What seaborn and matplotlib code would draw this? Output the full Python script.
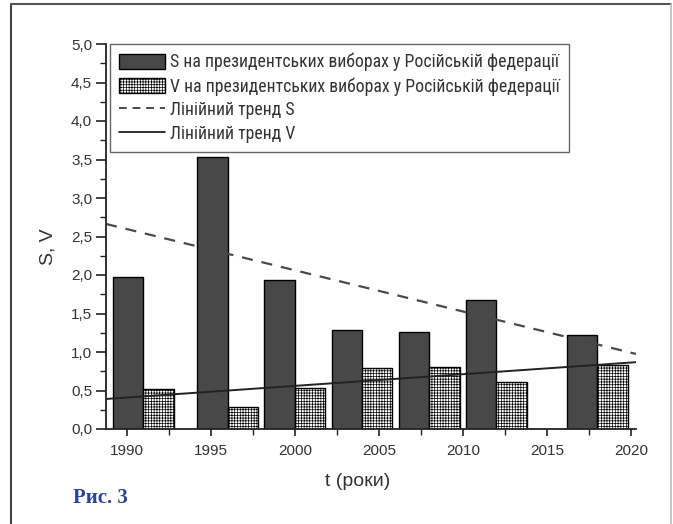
import numpy as np
import pandas as pd
import matplotlib
matplotlib.use("Agg")
import matplotlib.pyplot as plt
import seaborn as sns
from matplotlib import font_manager
from matplotlib.patches import Patch
from matplotlib.lines import Line2D
from matplotlib.ticker import MultipleLocator, FuncFormatter

# election years and the two indices
years = [1991, 1996, 2000, 2004, 2008, 2012, 2018]
s_vals = [1.98, 3.53, 1.94, 1.28, 1.26, 1.67, 1.22]
v_vals = [0.52, 0.28, 0.53, 0.79, 0.80, 0.61, 0.83]
x_ticks = [1990, 1995, 2000, 2005, 2010, 2015, 2020]
y_ticks = [0.0, 0.5, 1.0, 1.5, 2.0, 2.5, 3.0, 3.5, 4.0, 4.5, 5.0]

legend_labels = [
    "S на президентських виборах у Російській федерації",
    "V на президентських виборах у Російській федерації",
    "Лінійний тренд S",
    "Лінійний тренд V",
]

def pick_font(options):
    names = {f.name for f in font_manager.fontManager.ttflist}
    for o in options:
        if o in names:
            return o
    return "DejaVu Sans"

sns.set_style("ticks")
main_font = pick_font(["Liberation Sans", "Arial", "DejaVu Sans"])
narrow_font = pick_font(["Liberation Sans Narrow", "DejaVu Sans Condensed", "Roboto Condensed", "Liberation Sans"])
serif_font = pick_font(["Liberation Serif", "DejaVu Serif"])
plt.rcParams["font.family"] = [main_font, "DejaVu Sans"]
plt.rcParams["hatch.linewidth"] = 0.5
plt.rcParams["hatch.color"] = "#9a9a9a"

text_col = "#333333"
dark = "#484848"
hatch_col = "#9a9a9a"

df = pd.DataFrame({
    "year": years * 2,
    "value": s_vals + v_vals,
    "series": ["S"] * len(years) + ["V"] * len(years),
})

fig = plt.figure(figsize=(6.73, 5.24), dpi=100)
ax = fig.add_axes([106 / 673, 1 - 429 / 524, 530 / 673, 385 / 524])

sns.barplot(data=df, x="year", y="value", hue="series", native_scale=True,
            dodge=True, width=0.905, palette=[dark, "white"],
            edgecolor="black", linewidth=1.0, legend=False, ax=ax)

# hatched grid on V bars
for bar in ax.containers[1]:
    bar.set_hatch("++++++")
    if hasattr(bar, "set_hatchcolor"):
        bar.set_hatchcolor(hatch_col)

ax.set_xlim(1988.77, 2020.3)

# linear trends
sns.regplot(x=np.array(years), y=np.array(s_vals), scatter=False, ci=None,
            truncate=False, ax=ax,
            line_kws=dict(color="#4a4a4a", lw=1.6, ls=(0, (5, 4))))
sns.regplot(x=np.array(years), y=np.array(v_vals), scatter=False, ci=None,
            truncate=False, ax=ax,
            line_kws=dict(color="#222222", lw=1.4, ls="-"))

ax.set_xlim(1988.77, 2020.3)
ax.set_ylim(0, 5)
ax.set_xticks(x_ticks)
ax.set_yticks(y_ticks)
ax.xaxis.set_minor_locator(MultipleLocator(2.5))
ax.yaxis.set_minor_locator(MultipleLocator(0.25))
ax.yaxis.set_major_formatter(FuncFormatter(lambda v, p: f"{v:.1f}".replace(".", ",")))
ax.xaxis.set_major_formatter(FuncFormatter(lambda v, p: f"{int(round(v))}"))

for s in ["top", "right"]:
    ax.spines[s].set_visible(False)
for s in ["left", "bottom"]:
    ax.spines[s].set_color("#222222")
    ax.spines[s].set_linewidth(1.3)

ax.tick_params(axis="y", which="major", direction="out", length=7, width=1.2,
               color="#222222", labelsize=11, labelcolor=text_col, pad=3)
ax.tick_params(axis="y", which="minor", direction="out", length=4, width=1.0, color="#222222")
ax.tick_params(axis="x", which="major", direction="out", length=5, width=1.2,
               color="#222222", labelsize=11, labelcolor=text_col, pad=6)
ax.tick_params(axis="x", which="minor", direction="out", length=4, width=1.0, color="#222222")

ax.set_xlabel("t (роки)", fontsize=14, color=text_col)
ax.set_ylabel("S, V", fontsize=14, color=text_col)
ax.xaxis.set_label_coords(0.474, -0.115)
ax.yaxis.set_label_coords(-0.094, 0.473)

handles = [
    Patch(facecolor=dark, edgecolor="black", linewidth=1.0),
    Patch(facecolor="white", edgecolor="black", linewidth=1.0, hatch="++++++"),
    Line2D([0], [0], color="#4a4a4a", lw=1.4, ls=(0, (4, 3))),
    Line2D([0], [0], color="#222222", lw=1.3, ls="-"),
]
leg = ax.legend(handles, legend_labels, loc="upper left", bbox_to_anchor=(0.0075, 1.0),
                borderaxespad=0, frameon=True, fancybox=False, shadow=False,
                framealpha=1.0, handlelength=2.6, handleheight=0.95, handletextpad=0.3,
                labelspacing=0.32, borderpad=0.5,
                prop=dict(family=[narrow_font, "DejaVu Sans"], size=12.8))
leg.get_frame().set_edgecolor("#666666")
leg.get_frame().set_linewidth(1.0)
leg.set_zorder(10)
for t in leg.get_texts():
    t.set_color(text_col)

fig.text(73 / 673, 1 - 503 / 524, "Рис. 3", fontsize=15, fontweight="bold",
         color="#2d4496", family=[serif_font, "DejaVu Serif"], va="baseline")

# page frame
fig.add_artist(Line2D([11 / 673, 11 / 673], [0, 1 - 4 / 524], transform=fig.transFigure,
                      color="#444444", lw=1.5))
fig.add_artist(Line2D([11 / 673, 671 / 673], [1 - 4 / 524, 1 - 4 / 524], transform=fig.transFigure,
                      color="#555555", lw=1.5))
fig.add_artist(Line2D([671 / 673, 671 / 673], [0, 1 - 4 / 524], transform=fig.transFigure,
                      color="#bbbbbb", lw=1.2))

fig.savefig("out.png", dpi=100, facecolor="white")
